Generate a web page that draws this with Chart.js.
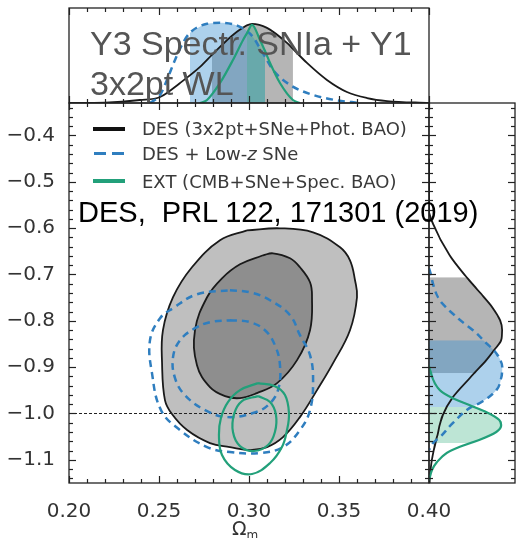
<!DOCTYPE html>
<html><head><meta charset="utf-8">
<script src="https://cdn.jsdelivr.net/npm/chart.js@4.4.1/dist/chart.umd.min.js"></script>
<style>
html,body{margin:0;padding:0;background:#fff;}
#wrap{position:relative;width:517px;height:538px;overflow:hidden;background:#fff;}
canvas{position:absolute;}
.t{position:absolute;white-space:pre;}
.lg{position:absolute;font-family:"DejaVu Sans";font-size:18px;line-height:18px;color:#3a3a3a;white-space:pre;}
.sw{position:absolute;}
</style></head><body>
<div id="wrap">
<canvas id="top" width="517" height="110" style="left:0;top:0"></canvas>
<canvas id="main" width="517" height="538" style="left:0;top:0"></canvas>
<canvas id="side" width="400" height="106" style="left:272px;top:240px;transform:rotate(90deg)"></canvas>

<div class="sw" style="left:93px;top:127px;width:32px;height:4px;background:#111"></div>
<div class="sw" style="left:94px;top:152px;width:12px;height:3px;background:#2f7ebf"></div>
<div class="sw" style="left:112px;top:152px;width:12px;height:3px;background:#2f7ebf"></div>
<div class="sw" style="left:93px;top:179px;width:32px;height:4px;background:#22a07a"></div>
<div class="lg" style="left:142px;top:120px">DES (3x2pt+SNe+Phot. BAO)</div>
<div class="lg" style="left:142px;top:145px">DES + Low-<i>z</i> SNe</div>
<div class="lg" style="left:142px;top:173px">EXT (CMB+SNe+Spec. BAO)</div>

<div class="t" style="left:232px;top:519px;font-family:'DejaVu Sans';font-size:19px;line-height:19px;color:#333">Ω<span style="font-size:12px;position:relative;top:4px">m</span></div>

<div class="t" style="left:90px;top:23px;font-family:'Liberation Sans';font-size:34px;line-height:40px;color:#555">Y3 Spectr. SNIa + Y1
3x2pt WL</div>
<div class="t" style="left:78px;top:198px;font-family:'Liberation Sans';font-size:29px;line-height:29px;color:#000">DES,  PRL 122, 171301 (2019)</div>
</div>
<script>
// ---- axis ticks ----
const omegaTicks = [0.20, 0.25, 0.30, 0.35, 0.40];
const omegaTickLabels = ['0.20', '0.25', '0.30', '0.35', '0.40'];
const wTicks = [-1.1, -1.0, -0.9, -0.8, -0.7, -0.6, -0.5, -0.4];
const wTickLabels = ['\u22121.1', '\u22121.0', '\u22120.9', '\u22120.8', '\u22120.7', '\u22120.6', '\u22120.5', '\u22120.4'];
const omegaRange = [0.20, 0.40];
const wRange = [-1.15, -0.33];
const wReference = -1.0;

// ---- 2D contours [Omega_m, w] ----
const desOuter95 = [[0.2989,-0.6047],[0.3172,-0.6004],[0.3356,-0.609],[0.3506,-0.6414],[0.3561,-0.6694],[0.3589,-0.7125],[0.36,-0.7491],[0.3561,-0.8203],[0.3467,-0.8914],[0.3378,-0.9496],[0.3283,-1.0078],[0.3189,-1.0509],[0.31,-1.0724],[0.3006,-1.0789],[0.2894,-1.0724],[0.2783,-1.0638],[0.2656,-1.0358],[0.2572,-1.0013],[0.2533,-0.9711],[0.2517,-0.8914],[0.2522,-0.8203],[0.2578,-0.7491],[0.2683,-0.6845],[0.2839,-0.6263]];
const desInner68 = [[0.3078,-0.6586],[0.3133,-0.6543],[0.3228,-0.6651],[0.3283,-0.6845],[0.3339,-0.7168],[0.335,-0.7491],[0.3339,-0.8203],[0.3267,-0.8849],[0.3156,-0.9345],[0.3044,-0.956],[0.295,-0.9668],[0.2867,-0.9625],[0.2783,-0.9431],[0.2711,-0.8957],[0.27,-0.8203],[0.2767,-0.7491],[0.285,-0.7082],[0.295,-0.678]];
const lowzOuter95 = [[0.2894,-0.734],[0.3006,-0.7384],[0.3117,-0.7556],[0.3228,-0.7879],[0.3283,-0.831],[0.3339,-0.8741],[0.3356,-0.928],[0.3339,-0.9927],[0.3283,-1.0358],[0.3189,-1.0724],[0.3061,-1.0853],[0.2894,-1.0832],[0.2767,-1.0724],[0.2617,-1.0358],[0.2511,-0.9927],[0.2461,-0.9129],[0.245,-0.8418],[0.2506,-0.7944],[0.2578,-0.7728],[0.2711,-0.7427]];
const lowzInner68 = [[0.2894,-0.7987],[0.3006,-0.803],[0.3089,-0.8203],[0.3144,-0.8526],[0.3172,-0.8957],[0.3161,-0.9496],[0.3106,-0.9819],[0.3022,-0.9991],[0.2878,-1.0078],[0.2756,-0.9927],[0.2644,-0.9603],[0.2589,-0.9237],[0.2578,-0.8784],[0.2617,-0.8418],[0.27,-0.8159],[0.2783,-0.803]];
const extOuter95 = [[0.305,-0.9345],[0.3144,-0.941],[0.32,-0.9603],[0.3222,-0.9991],[0.3211,-1.0358],[0.3183,-1.0724],[0.3117,-1.1069],[0.3017,-1.1306],[0.2922,-1.122],[0.285,-1.0897],[0.2833,-1.0466],[0.2844,-1.0099],[0.2883,-0.9754],[0.295,-0.9496]];
const extInner68 = [[0.305,-0.9625],[0.3117,-0.9754],[0.315,-1.0034],[0.3144,-1.0401],[0.3106,-1.0681],[0.3028,-1.081],[0.295,-1.0703],[0.2911,-1.0401],[0.2917,-1.0013],[0.2961,-0.9733]];

// ---- 1D marginals over Omega_m [Omega_m, density] ----
const desOmega1D = [[0.20,0],[0.22,0.005],[0.2394,0.038],[0.2506,0.076],[0.2617,0.253],[0.2728,0.456],[0.2794,0.608],[0.2839,0.709],[0.2933,0.899],[0.3017,1.0],[0.31,0.949],[0.3211,0.759],[0.3244,0.684],[0.3322,0.506],[0.3433,0.291],[0.3544,0.139],[0.3656,0.063],[0.3767,0.025],[0.40,0]];
const lowzOmega1D = [[0.245,0],[0.2506,0.101],[0.2544,0.291],[0.2589,0.544],[0.2633,0.759],[0.2672,0.887],[0.2767,1.0],[0.285,1.013],[0.295,0.962],[0.3022,0.835],[0.3072,0.646],[0.3089,0.584],[0.3133,0.418],[0.3228,0.228],[0.3339,0.114],[0.3478,0.038],[0.3617,0]];
const extOmega1D = [[0.2728,0],[0.2767,0.038],[0.2839,0.253],[0.2911,0.544],[0.2967,0.797],[0.2989,0.882],[0.3017,0.987],[0.3061,0.797],[0.3089,0.657],[0.3117,0.506],[0.3172,0.253],[0.3244,0.038],[0.3283,0]];
const desOmegaBand = [0.2794, 0.3244];
const lowzOmegaBand = [0.2672, 0.3089];
const extOmegaBand = [0.2989, 0.3089];

// ---- 1D marginals over w [w, density] ----
const desW1D = [[-0.45,0],[-0.562,0],[-0.59,0.053],[-0.659,0.28],[-0.706,0.507],[-0.745,0.72],[-0.771,0.853],[-0.799,0.96],[-0.82,0.987],[-0.842,0.973],[-0.863,0.88],[-0.885,0.773],[-0.913,0.61],[-0.924,0.547],[-0.965,0.32],[-1.003,0.187],[-1.051,0.107],[-1.10,0.04],[-1.137,0.013],[-1.15,0.008]];
const lowzW1D = [[-0.687,0],[-0.756,0.147],[-0.792,0.373],[-0.827,0.64],[-0.842,0.733],[-0.87,0.907],[-0.9,0.987],[-0.924,0.973],[-0.95,0.907],[-0.978,0.68],[-0.986,0.57],[-1.021,0.32],[-1.051,0.147],[-1.064,0.053],[-1.079,0]];
const extW1D = [[-0.896,0],[-0.906,0.013],[-0.95,0.147],[-0.967,0.32],[-0.982,0.547],[-0.986,0.607],[-0.997,0.773],[-1.014,0.947],[-1.025,0.973],[-1.04,0.907],[-1.057,0.68],[-1.064,0.555],[-1.072,0.413],[-1.085,0.24],[-1.105,0.107],[-1.122,0.04],[-1.144,0]];
const desWBand = [-0.913, -0.706];
const lowzWBand = [-0.986, -0.842];
const extWBand = [-1.064, -0.986];

// ---- styles ----
const C_BLACK = '#1a1a1a', C_BLUE = '#2f7ebf', C_GREEN = '#22a07a';
const F_GRAY = 'rgba(90,90,90,0.45)', F_BLUE = 'rgba(60,145,210,0.42)', F_GREEN = 'rgba(50,175,125,0.32)';
const F_OUTER = '#bfbfbf', F_INNER = '#8e8e8e';

function minorTicks(lo, hi, step, majors) {
  const out = [];
  const n0 = Math.ceil(lo / step - 1e-6), n1 = Math.floor(hi / step + 1e-6);
  for (let i = n0; i <= n1; i++) {
    const v = +(i * step).toFixed(6);
    if (!majors.some(m => Math.abs(m - v) < 1e-6)) out.push(v);
  }
  return out;
}
const omegaMinor = minorTicks(omegaRange[0], omegaRange[1], 0.01, omegaTicks);
const wMinor = minorTicks(wRange[0], wRange[1], 0.02, wTicks);

function frameTicks(sides) {
  return {
    id: 'frameTicks',
    afterDatasetsDraw(chart) {
      const ctx = chart.ctx, a = chart.chartArea;
      ctx.save();
      ctx.setLineDash([]);
      ctx.strokeStyle = '#222';
      ctx.lineWidth = 1.3;
      ctx.strokeRect(a.left, a.top, a.right - a.left, a.bottom - a.top);
      ctx.lineWidth = 1.2;
      sides.forEach(s => {
        const sc = chart.scales[s.axis];
        const draw = (vals, len) => {
          vals.forEach(v => {
            const p = Math.round(sc.getPixelForValue(v)) + 0.5;
            ctx.beginPath();
            if (s.pos === 'left') { ctx.moveTo(a.left, p); ctx.lineTo(a.left + len, p); }
            else if (s.pos === 'right') { ctx.moveTo(a.right, p); ctx.lineTo(a.right - len, p); }
            else if (s.pos === 'top') { ctx.moveTo(p, a.top); ctx.lineTo(p, a.top + len); }
            else { ctx.moveTo(p, a.bottom); ctx.lineTo(p, a.bottom - len); }
            ctx.stroke();
          });
        };
        draw(s.major, 7);
        draw(s.minor, 4);
      });
      ctx.restore();
    }
  };
}

const toXY = pts => pts.map(([x, y]) => ({x, y}));
const closed = pts => toXY(pts.concat([pts[0]]));
function curve(pts, color, width, dash) {
  return {data: toXY(pts), showLine: true, borderColor: color, borderWidth: width, borderDash: dash || [],
    fill: false, pointRadius: 0, cubicInterpolationMode: 'monotone'};
}
function band(pts, range, color) {
  const sub = pts.filter(([x]) => x >= Math.min(...range) - 1e-6 && x <= Math.max(...range) + 1e-6);
  return {data: toXY(sub), showLine: true, borderWidth: 0, borderColor: 'rgba(0,0,0,0)', backgroundColor: color,
    fill: 'origin', pointRadius: 0, cubicInterpolationMode: 'monotone'};
}
function contour(pts, color, width, dash, fillColor) {
  return {data: closed(pts), showLine: true, borderColor: color, borderWidth: width, borderDash: dash || [],
    tension: 0.4, pointRadius: 0, fill: fillColor ? 'shape' : false, backgroundColor: fillColor || 'rgba(0,0,0,0)'};
}
const basePlugins = {legend: {display: false}, tooltip: {enabled: false}};

// ---- top panel: Omega_m marginal ----
new Chart(document.getElementById('top'), {
  type: 'scatter',
  data: {datasets: [
    curve(extOmega1D, C_GREEN, 2.2),
    curve(lowzOmega1D, C_BLUE, 2.5, [7, 5]),
    curve(desOmega1D, C_BLACK, 1.8),
    band(extOmega1D, extOmegaBand, F_GREEN),
    band(lowzOmega1D, lowzOmegaBand, F_BLUE),
    band(desOmega1D, desOmegaBand, F_GRAY)
  ]},
  options: {
    responsive: false, animation: false, events: [], plugins: basePlugins,
    layout: {padding: {left: 69, right: 88, top: 8, bottom: 7}},
    scales: {x: {type: 'linear', display: false, min: omegaRange[0], max: omegaRange[1]},
             y: {type: 'linear', display: false, min: 0, max: 1.2}}
  },
  plugins: [frameTicks([
    {pos: 'top', axis: 'x', major: omegaTicks, minor: omegaMinor},
    {pos: 'bottom', axis: 'x', major: omegaTicks, minor: omegaMinor}])]
});

// ---- main panel: Omega_m vs w ----
new Chart(document.getElementById('main'), {
  type: 'scatter',
  data: {datasets: [
    contour(extInner68, C_GREEN, 2.2),
    contour(extOuter95, C_GREEN, 2.2),
    contour(lowzInner68, C_BLUE, 2.5, [7, 5]),
    contour(lowzOuter95, C_BLUE, 2.5, [7, 5]),
    {data: [{x: omegaRange[0], y: wReference}, {x: omegaRange[1], y: wReference}], showLine: true,
     borderColor: '#222', borderWidth: 1.1, borderDash: [3, 2], pointRadius: 0, fill: false},
    contour(desInner68, C_BLACK, 1.8, null, F_INNER),
    contour(desOuter95, C_BLACK, 1.8, null, F_OUTER)
  ]},
  options: {
    responsive: false, animation: false, events: [], plugins: basePlugins,
    layout: {padding: {left: 0, right: 88, top: 103, bottom: 0}},
    scales: {
      x: {type: 'linear', min: omegaRange[0], max: omegaRange[1],
          afterBuildTicks: s => { s.ticks = omegaTicks.map(v => ({value: v})); },
          afterFit: s => { s.height = 55; },
          grid: {display: false}, border: {display: false},
          ticks: {autoSkip: false, maxRotation: 0, padding: 9, color: '#333',
                  font: {family: 'DejaVu Sans', size: 20}, callback: (v, i) => omegaTickLabels[i]}},
      y: {type: 'linear', min: wRange[0], max: wRange[1],
          afterBuildTicks: s => { s.ticks = wTicks.map(v => ({value: v})); },
          afterFit: s => { s.width = 69; },
          grid: {display: false}, border: {display: false},
          ticks: {autoSkip: false, padding: 6, color: '#333',
                  font: {family: 'DejaVu Sans', size: 20}, callback: (v, i) => wTickLabels[i]}}
    }
  },
  plugins: [frameTicks([
    {pos: 'left', axis: 'y', major: wTicks, minor: wMinor},
    {pos: 'right', axis: 'y', major: wTicks, minor: wMinor},
    {pos: 'top', axis: 'x', major: omegaTicks, minor: omegaMinor},
    {pos: 'bottom', axis: 'x', major: omegaTicks, minor: omegaMinor}])]
});

// ---- right panel: w marginal (canvas rotated 90deg) ----
new Chart(document.getElementById('side'), {
  type: 'scatter',
  data: {datasets: [
    curve(extW1D, C_GREEN, 2.2),
    curve(lowzW1D, C_BLUE, 2.5, [7, 5]),
    curve(desW1D, C_BLACK, 1.8),
    {data: [{x: wReference, y: 0}, {x: wReference, y: 1.16}], showLine: true,
     borderColor: '#222', borderWidth: 1.1, borderDash: [3, 2], pointRadius: 0, fill: false},
    band(extW1D, extWBand, F_GREEN),
    band(lowzW1D, lowzWBand, F_BLUE),
    band(desW1D, desWBand, F_GRAY)
  ]},
  options: {
    responsive: false, animation: false, events: [], plugins: basePlugins,
    layout: {padding: {left: 10, right: 10, top: 10, bottom: 10}},
    scales: {x: {type: 'linear', display: false, reverse: true, min: wRange[0], max: wRange[1]},
             y: {type: 'linear', display: false, min: 0, max: 1.16}}
  },
  plugins: [frameTicks([
    {pos: 'top', axis: 'x', major: wTicks, minor: wMinor},
    {pos: 'bottom', axis: 'x', major: wTicks, minor: wMinor}])]
});
</script>
</body></html>
